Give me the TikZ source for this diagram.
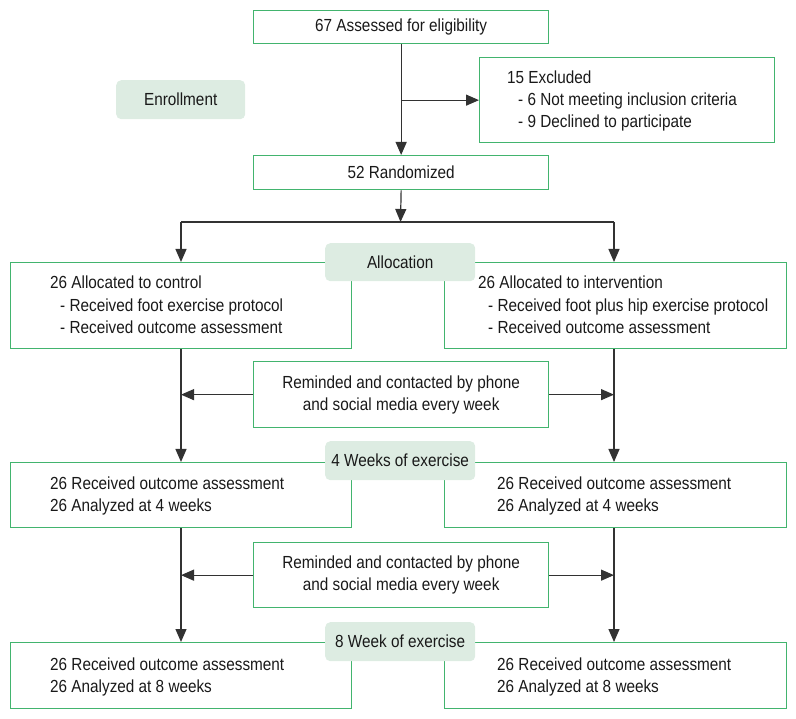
\documentclass[tikz,border=0pt]{standalone}
\usepackage{fontspec}
\setmainfont{Liberation Sans}[FakeStretch=0.875]
\usetikzlibrary{arrows.meta}
\definecolor{gbord}{RGB}{66,180,110}
\definecolor{gfill}{RGB}{221,236,226}
\definecolor{txt}{RGB}{25,25,25}
\definecolor{ln}{RGB}{50,50,50}
\begin{document}
\begin{tikzpicture}[x=1pt,y=-1pt,
  font=\fontsize{17.5}{22}\selectfont, text=txt,
  box/.style={draw=gbord, line width=1.3pt, inner sep=0pt, anchor=north west, align=center},
  lab/.style={fill=gfill, rounded corners=5pt, inner sep=0pt, anchor=north west},
  tx/.style={anchor=base west, inner sep=0pt},
  arr/.style={draw=ln, line width=1.2pt, -{Triangle[length=13pt,width=11pt]}},
  ln/.style={draw=ln, line width=1.2pt}]
\useasboundingbox (0,0) rectangle (796,719);
% boxes
\node[box, minimum width=295pt, minimum height=33pt] (assess) at (253,10) {67 Assessed for eligibility};
\node[box, minimum width=295pt, minimum height=85pt] (excl) at (479,57) {};
\node[box, minimum width=295pt, minimum height=34pt] (rand) at (253,155) {52 Randomized};
\node[box, minimum width=341pt, minimum height=86pt] (L1) at (10,262) {};
\node[box, minimum width=342pt, minimum height=86pt] (R1) at (444,262) {};
\node[box, minimum width=295pt, minimum height=66pt] (rem1) at (253,361) {Reminded and contacted by phone\\and social media every week};
\node[box, minimum width=341pt, minimum height=65pt] (L2) at (10,462) {};
\node[box, minimum width=342pt, minimum height=65pt] (R2) at (444,462) {};
\node[box, minimum width=295pt, minimum height=65pt] (rem2) at (253,542) {Reminded and contacted by phone\\and social media every week};
\node[box, minimum width=341pt, minimum height=66pt] (L3) at (10,642) {};
\node[box, minimum width=342pt, minimum height=66pt] (R3) at (444,642) {};
% labels
\node[lab, minimum width=129pt, minimum height=39pt] (enroll) at (116,80) {Enrollment};
\node[lab, minimum width=150pt, minimum height=38pt] (alloc) at (325,243) {Allocation};
\node[lab, minimum width=150pt, minimum height=39pt] (wk4) at (325,441) {4 Weeks of exercise};
\node[lab, minimum width=150pt, minimum height=39pt] (wk8) at (325,622) {8 Week of exercise};
% texts
\node[tx] (e1) at (507,83.5) {15 Excluded};
\node[tx] (e2) at (518,106) {- 6 Not meeting inclusion criteria};
\node[tx] (e3) at (518,128) {- 9 Declined to participate};
\node[tx] (l11) at (50,289) {26 Allocated to control};
\node[tx] (l12) at (60,312) {- Received foot exercise protocol};
\node[tx] (l13) at (60,334) {- Received outcome assessment};
\node[tx] (r11) at (478,289) {26 Allocated to intervention};
\node[tx] (r12) at (488,312) {- Received foot plus hip exercise protocol};
\node[tx] (r13) at (488,334) {- Received outcome assessment};
\node[tx] (l21) at (50,489.5) {26 Received outcome assessment};
\node[tx] (l22) at (50,511.5) {26 Analyzed at 4 weeks};
\node[tx] (r21) at (497,489.5) {26 Received outcome assessment};
\node[tx] (r22) at (497,511.5) {26 Analyzed at 4 weeks};
\node[tx] (l31) at (50,670) {26 Received outcome assessment};
\node[tx] (l32) at (50,692) {26 Analyzed at 8 weeks};
\node[tx] (r31) at (497,670) {26 Received outcome assessment};
\node[tx] (r32) at (497,692) {26 Analyzed at 8 weeks};
% connectors
\coordinate (bm) at (400.5,222);
\coordinate (bl) at (181,222);
\coordinate (br) at (614,222);
\draw[arr] (assess.south) -- (rand.north);
\draw[arr] (assess.south |- excl.west) -- (excl.west);
\draw[arr] (rand.south) -- (bm);
\draw[ln] (bl) -- (br);
\draw[arr] (bl) -- (bl |- L1.north);
\draw[arr] (br) -- (br |- R1.north);
\draw[arr] (bl |- L1.south) -- (bl |- L2.north);
\draw[arr] (br |- R1.south) -- (br |- R2.north);
\draw[arr] (rem1.west) -- (rem1.west -| bl);
\draw[arr] (rem1.east) -- (rem1.east -| br);
\draw[arr] (bl |- L2.south) -- (bl |- L3.north);
\draw[arr] (br |- R2.south) -- (br |- R3.north);
\draw[arr] (rem2.west) -- (rem2.west -| bl);
\draw[arr] (rem2.east) -- (rem2.east -| br);
\end{tikzpicture}
\end{document}
